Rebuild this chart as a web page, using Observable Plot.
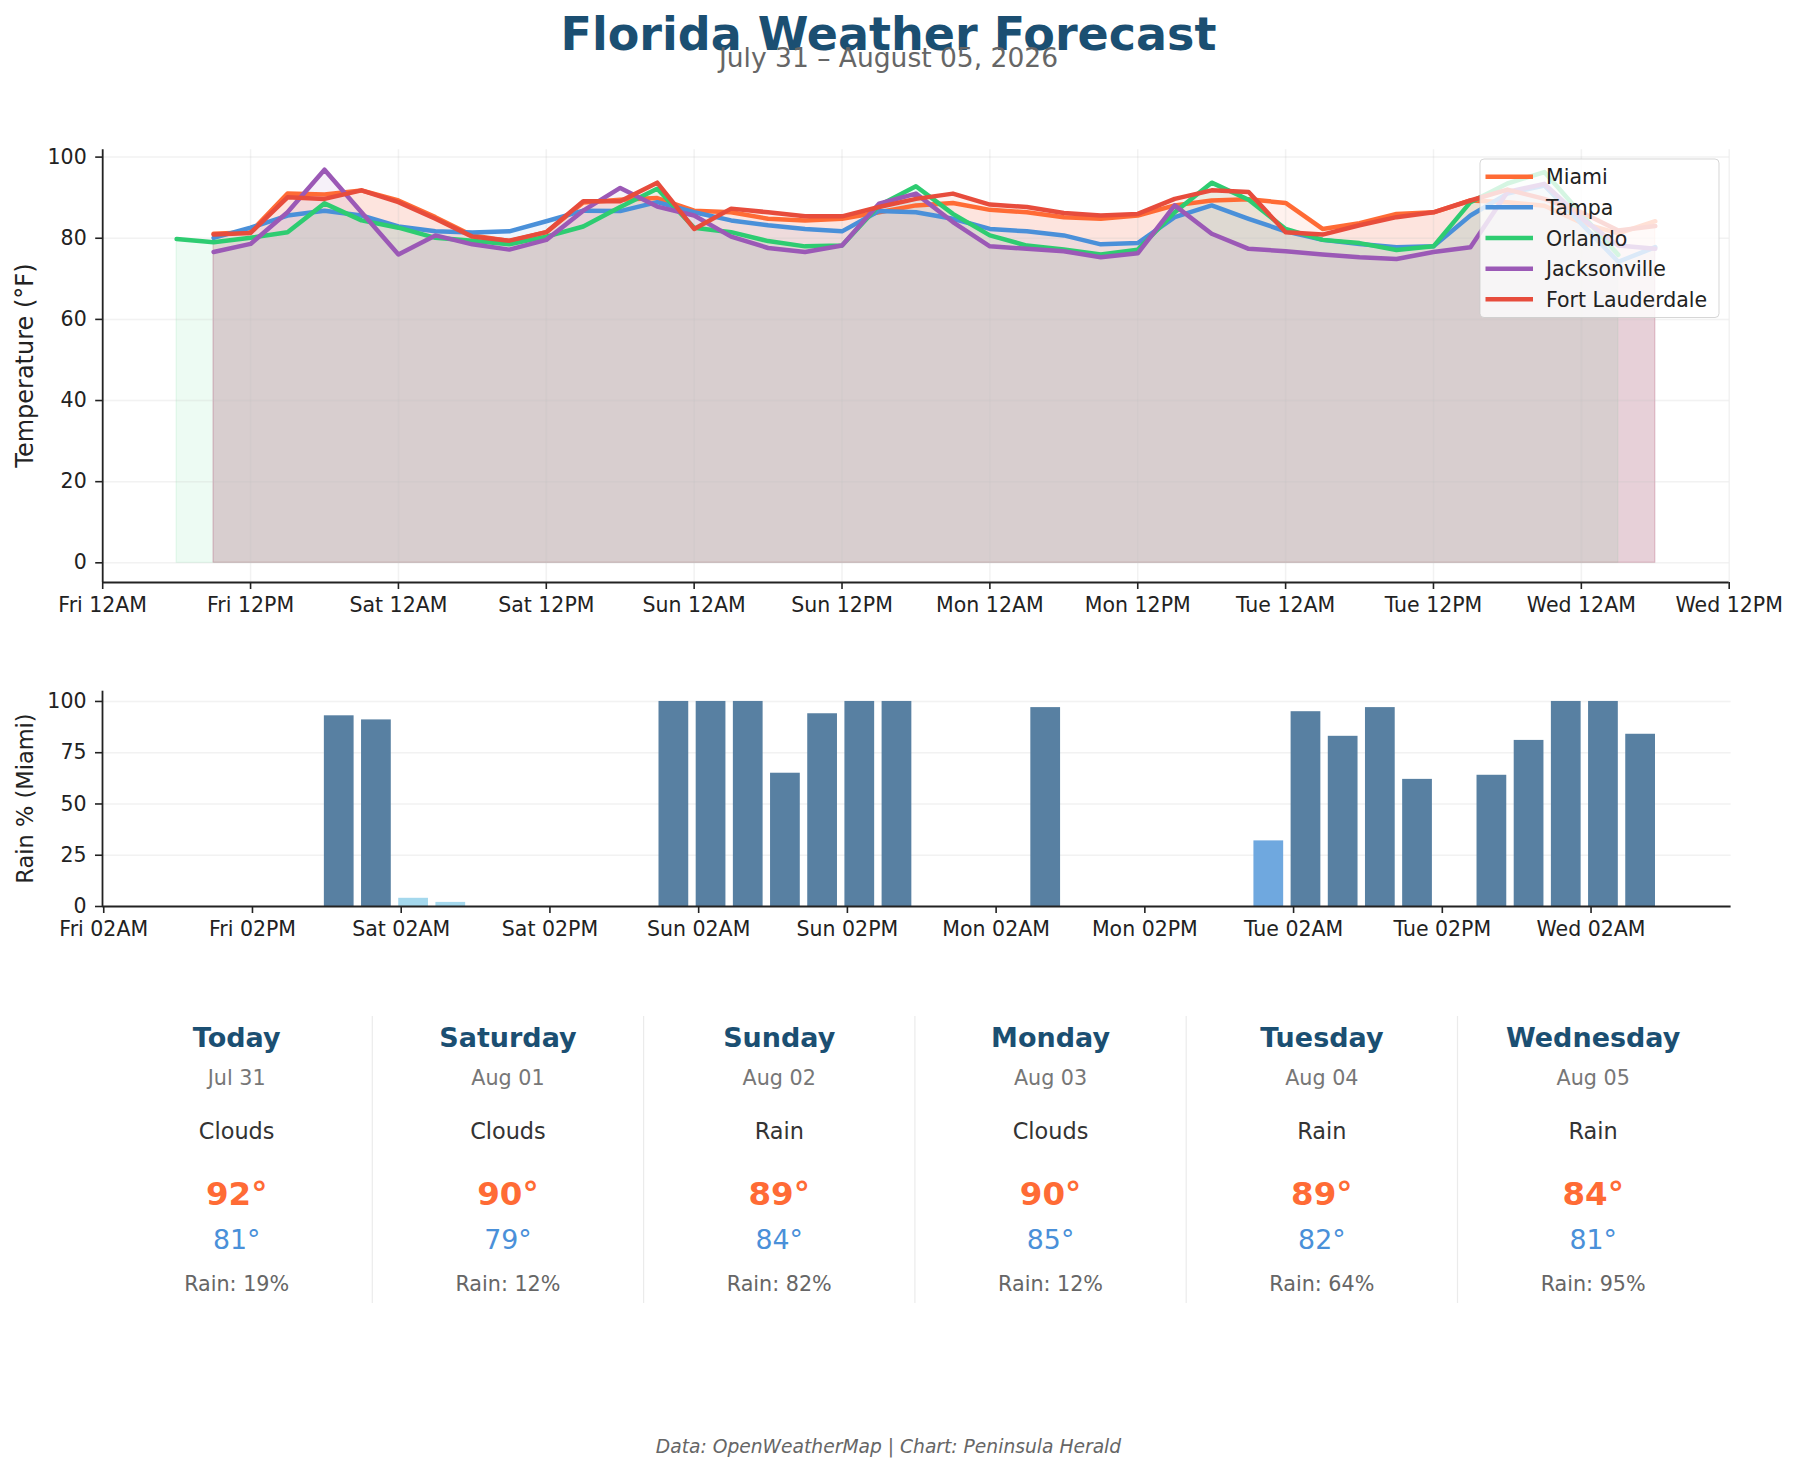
<!DOCTYPE html>
<html>
<head>
<meta charset="utf-8">
<script src="https://cdn.jsdelivr.net/npm/d3@7"></script>
<script src="https://cdn.jsdelivr.net/npm/@observablehq/plot@0.6"></script>
<style>
  html, body { margin: 0; padding: 0; background: #fff; }
  #root { position: relative; width: 1798px; height: 1474px; overflow: hidden; font-family: "DejaVu Sans", sans-serif; }
  #root > svg { position: absolute; left: 0; }
  #root g[aria-label$="tick"] path { stroke-width: 1.6px; }
</style>
</head>
<body>
<div id="root"></div>
<script>
// ---- Forecast data (3-hourly, hours counted from Fri 12AM) ----
const cities = ["Miami", "Tampa", "Orlando", "Jacksonville", "Fort Lauderdale"];
const cityColors = ["#FF6B35", "#4A90D9", "#2ECC71", "#9B59B6", "#E74C3C"];

const hoursMain = [9, 12, 15, 18, 21, 24, 27, 30, 33, 36, 39, 42, 45, 48, 51, 54, 57, 60, 63, 66,
  69, 72, 75, 78, 81, 84, 87, 90, 93, 96, 99, 102, 105, 108, 111, 114, 117, 120, 123, 126];
const hoursOrlando = [6, 9, 12, 15, 18, 21, 24, 27, 30, 33, 36, 39, 42, 45, 48, 51, 54, 57, 60, 63,
  66, 69, 72, 75, 78, 81, 84, 87, 90, 93, 96, 99, 102, 105, 108, 111, 114, 117, 120, 123];

const tempMiami = [81.1, 81.5, 91.0, 90.8, 91.8, 89.3, 85.2, 80.7, 79.3, 81.5,
  88.8, 89.5, 89.9, 86.8, 86.4, 84.8, 84.4, 84.8, 86.4, 88.1,
  88.7, 87.0, 86.4, 85.2, 84.8, 85.6, 88.1, 89.3, 89.6, 88.7,
  82.3, 83.7, 86.0, 86.4, 89.3, 88.9, 88.0, 83.8, 81.2, 84.2];
const tempTampa = [80.1, 82.6, 85.6, 86.8, 85.6, 82.9, 81.7, 81.4, 81.7, 84.2,
  86.8, 86.7, 88.9, 86.4, 84.4, 83.2, 82.3, 81.7, 86.7, 86.4,
  84.8, 82.3, 81.7, 80.7, 78.5, 78.8, 85.2, 88.1, 84.8, 81.7,
  79.6, 78.6, 77.8, 78.0, 85.6, 91.0, 93.0, 83.6, 74.2, 77.8];
const tempOrlando = [79.8, 79.0, 80.1, 81.5, 88.6, 84.4, 82.6, 80.1, 79.4, 78.5,
  80.4, 82.9, 87.7, 92.2, 82.6, 81.5, 79.3, 78.0, 78.2, 88.1,
  92.8, 86.0, 80.7, 78.2, 77.2, 76.0, 77.2, 86.4, 93.7, 89.5,
  82.3, 79.6, 78.8, 77.1, 78.0, 88.9, 93.5, 96.3, 86.0, 75.9];
const tempJacksonville = [76.6, 78.6, 86.4, 96.9, 86.4, 76.0, 80.7, 78.5, 77.2, 79.6,
  86.8, 92.4, 87.8, 85.6, 80.4, 77.6, 76.6, 78.2, 88.5, 91.0,
  84.0, 78.0, 77.4, 76.8, 75.3, 76.3, 88.1, 81.1, 77.4, 76.8,
  76.0, 75.3, 74.9, 76.6, 77.8, 91.4, 93.4, 85.0, 78.2, 77.4];
const tempFortLauderdale = [80.9, 81.3, 90.1, 89.7, 91.8, 88.9, 84.8, 80.4, 79.4, 81.5,
  89.1, 89.1, 93.7, 82.3, 87.3, 86.4, 85.4, 85.4, 87.7, 89.7,
  91.0, 88.3, 87.7, 86.2, 85.6, 86.0, 89.7, 91.8, 91.4, 81.5,
  80.9, 83.2, 85.2, 86.4, 89.3, 92.0, 89.7, 86.4, 81.9, 83.0];

// Miami probability of precipitation (%), same 3-hourly steps as hoursMain
const rainMiami = [0, 0, 0, 0, 93, 91, 4, 2, 0, 0,
  0, 0, 0, 100, 100, 100, 65, 94, 100, 100,
  0, 0, 0, 97, 0, 0, 0, 0, 0, 32,
  95, 83, 97, 62, 0, 64, 81, 100, 100, 84];

// Axis ticks
const tempTickHours = [0, 12, 24, 36, 48, 60, 72, 84, 96, 108, 120, 132];
const tempTickLabels = ["Fri 12AM", "Fri 12PM", "Sat 12AM", "Sat 12PM", "Sun 12AM", "Sun 12PM",
  "Mon 12AM", "Mon 12PM", "Tue 12AM", "Tue 12PM", "Wed 12AM", "Wed 12PM"];
const rainTickHours = [2, 14, 26, 38, 50, 62, 74, 86, 98, 110, 122];
const rainTickLabels = ["Fri 02AM", "Fri 02PM", "Sat 02AM", "Sat 02PM", "Sun 02AM", "Sun 02PM",
  "Mon 02AM", "Mon 02PM", "Tue 02AM", "Tue 02PM", "Wed 02AM"];

// Daily summary for Miami
const dayNames = ["Today", "Saturday", "Sunday", "Monday", "Tuesday", "Wednesday"];
const dayDates = ["Jul 31", "Aug 01", "Aug 02", "Aug 03", "Aug 04", "Aug 05"];
const dayConditions = ["Clouds", "Clouds", "Rain", "Clouds", "Rain", "Rain"];
const dayHighs = [92, 90, 89, 90, 89, 84];
const dayLows = [81, 79, 84, 85, 82, 81];
const dayRain = [19, 12, 82, 12, 64, 95];

// ---- Build tables ----
const cityTemps = [tempMiami, tempTampa, tempOrlando, tempJacksonville, tempFortLauderdale];
const cityHours = [hoursMain, hoursMain, hoursOrlando, hoursMain, hoursMain];
const series = cities.map((city, i) =>
  cityTemps[i].map((t, j) => ({city, hour: cityHours[i][j], temp: t})));
const rainRows = rainMiami.map((p, j) => ({hour: hoursMain[j], pop: p}));

const rainColor = p => p > 50 ? "#5880a2" : p > 20 ? "#6fa8df" : "#a4d8ed";

const root = document.getElementById("root");
const baseStyle = {
  fontFamily: '"DejaVu Sans", sans-serif',
  fontSize: "20.5px",
  color: "#222",
  background: "none",
  overflow: "visible"
};
const gridStyle = {stroke: "#c4c4c4", strokeOpacity: 0.22, strokeWidth: 1.5};

// ---- Temperature chart ----
const tempYMin = -4.85, tempYMax = 101.8;
const tempChart = Plot.plot({
  width: 1798,
  height: 560,
  marginLeft: 102.2,
  marginRight: 69.3,
  marginTop: 49.3,
  marginBottom: 78,
  style: baseStyle,
  x: {domain: [0, 132], ticks: tempTickHours, tickFormat: h => tempTickLabels[tempTickHours.indexOf(h)],
      tickSize: 7, tickPadding: 8, label: null},
  y: {domain: [tempYMin, tempYMax], ticks: [0, 20, 40, 60, 80, 100], tickSize: 7, tickPadding: 9, label: null},
  marks: [
    ...series.map((rows, i) => Plot.areaY(rows, {
      x: "hour", y: "temp", fill: cityColors[i], fillOpacity: 0.085,
      stroke: cityColors[i], strokeOpacity: 0.1, strokeWidth: 1.2
    })),
    Plot.ruleX(tempTickHours, gridStyle),
    Plot.ruleY([0, 20, 40, 60, 80, 100], gridStyle),
    ...series.map((rows, i) => Plot.line(rows, {
      x: "hour", y: "temp", stroke: cityColors[i], strokeWidth: 4.5
    })),
    Plot.ruleX([0], {stroke: "#222", strokeWidth: 1.8}),
    Plot.ruleY([tempYMin], {stroke: "#222", strokeWidth: 1.8})
  ]
});
tempChart.style.top = "100px";
root.appendChild(tempChart);

// ---- Rain probability chart ----
const rainXMin = 1.9, rainXMax = 133.3;
const rainChart = Plot.plot({
  width: 1798,
  height: 300,
  marginLeft: 102,
  marginRight: 67.4,
  marginTop: 30.7,
  marginBottom: 54,
  style: baseStyle,
  x: {domain: [rainXMin, rainXMax], ticks: rainTickHours, tickFormat: h => rainTickLabels[rainTickHours.indexOf(h)],
      tickSize: 7, tickPadding: 8, label: null},
  y: {domain: [0, 105], ticks: [0, 25, 50, 75, 100], tickSize: 7, tickPadding: 9, label: null},
  marks: [
    Plot.ruleY([25, 50, 75, 100], gridStyle),
    Plot.rect(rainRows, {
      x1: d => d.hour - 1.2, x2: d => d.hour + 1.2, y1: 0, y2: "pop",
      fill: d => rainColor(d.pop)
    }),
    Plot.ruleX([rainXMin], {stroke: "#222", strokeWidth: 1.8}),
    Plot.ruleY([0], {stroke: "#222", strokeWidth: 1.8})
  ]
});
rainChart.style.top = "660px";
root.appendChild(rainChart);

// ---- Titles, legend, daily cards and footer ----
const svg = d3.select(root).append("svg")
  .attr("width", 1798).attr("height", 1474)
  .style("top", "0px").style("pointer-events", "none")
  .attr("font-family", '"DejaVu Sans", sans-serif');

const centerX = 888.5;
svg.append("text").attr("x", centerX).attr("y", 50).attr("text-anchor", "middle")
  .attr("font-size", 46).attr("font-weight", "bold").attr("fill", "#1b4f72")
  .text("Florida Weather Forecast");
svg.append("text").attr("x", centerX).attr("y", 67).attr("text-anchor", "middle")
  .attr("font-size", 26.5).attr("fill", "#666")
  .text("July 31 \u2013 August 05, 2026");

// axis titles
svg.append("text").attr("transform", "translate(33,365.6) rotate(-90)").attr("text-anchor", "middle")
  .attr("font-size", 24).attr("fill", "#222").text("Temperature (\u00b0F)");
svg.append("text").attr("transform", "translate(33,798.5) rotate(-90)").attr("text-anchor", "middle")
  .attr("font-size", 22.5).attr("fill", "#222").text("Rain % (Miami)");

// legend
const lg = svg.append("g").attr("transform", "translate(1480,159)");
lg.append("rect").attr("width", 239).attr("height", 158.5).attr("rx", 4)
  .attr("fill", "#fff").attr("fill-opacity", 0.8).attr("stroke", "#ccc").attr("stroke-opacity", 0.8);
cities.forEach((c, i) => {
  const cy = 17.7 + 30.65 * i;
  lg.append("line").attr("x1", 5.5).attr("x2", 53).attr("y1", cy).attr("y2", cy)
    .attr("stroke", cityColors[i]).attr("stroke-width", 4.5);
  lg.append("text").attr("x", 66).attr("y", cy + 7.5).attr("font-size", 20.5).attr("fill", "#222").text(c);
});

// daily summary columns
const colLeft = 101, colWidth = 271.3;
dayNames.forEach((name, i) => {
  const cx = colLeft + colWidth * (i + 0.5);
  const g = svg.append("g").attr("text-anchor", "middle");
  g.append("text").attr("x", cx).attr("y", 1047).attr("font-size", 27).attr("font-weight", "bold")
    .attr("fill", "#1b4f72").text(name);
  g.append("text").attr("x", cx).attr("y", 1085).attr("font-size", 20.7).attr("fill", "#777").text(dayDates[i]);
  g.append("text").attr("x", cx).attr("y", 1139).attr("font-size", 22.4).attr("fill", "#333").text(dayConditions[i]);
  g.append("text").attr("x", cx).attr("y", 1205).attr("font-size", 32.5).attr("font-weight", "bold")
    .attr("fill", "#FF6B35").text(dayHighs[i] + "\u00b0");
  g.append("text").attr("x", cx).attr("y", 1249).attr("font-size", 26.8).attr("fill", "#4A90D9").text(dayLows[i] + "\u00b0");
  g.append("text").attr("x", cx).attr("y", 1291).attr("font-size", 20.7).attr("fill", "#666").text("Rain: " + dayRain[i] + "%");
  if (i > 0) {
    const lx = colLeft + colWidth * i;
    svg.append("line").attr("x1", lx).attr("x2", lx).attr("y1", 1016).attr("y2", 1303)
      .attr("stroke", "#ebebeb").attr("stroke-width", 1.2);
  }
});

svg.append("text").attr("x", centerX).attr("y", 1453).attr("text-anchor", "middle")
  .attr("font-size", 18.7).attr("font-style", "italic").attr("fill", "#666")
  .text("Data: OpenWeatherMap | Chart: Peninsula Herald");
</script>
</body>
</html>
